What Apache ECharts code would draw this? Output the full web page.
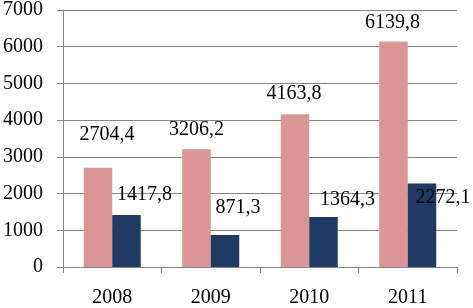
<!DOCTYPE html>
<html><head><meta charset="utf-8">
<script src="https://cdn.jsdelivr.net/npm/echarts@6/dist/echarts.min.js"></script>
<style>html,body{margin:0;padding:0;background:#fff}#c{width:473px;height:308px}</style>
</head><body><div id="c"></div>
<script>
var categories = ['2008', '2009', '2010', '2011'];
var series1 = [2704.4, 3206.2, 4163.8, 6139.8];
var series2 = [1417.8, 871.3, 1364.3, 2272.1];
var yTicks = [0, 1000, 2000, 3000, 4000, 5000, 6000, 7000];

// label placement (manually placed labels in the original)
var off1 = [[9, -18], [0, -5], [-1, -5], [-1, -4]];
var off2 = [[18, -5], [13, -12], [24, -2], [21, 29]];

var font = '"Liberation Serif","Times New Roman",serif';
function fmt(v){ return v.toFixed(1).replace('.', ','); }
function build(vals, offs){
  return vals.map(function(v, i){
    return {value: v, label: {offset: offs[i]}};
  });
}
var chart = echarts.init(document.getElementById('c'), null, {renderer: 'canvas'});
chart.setOption({
  animation: false,
  grid: {left: 59, right: 16, top: 7, bottom: 38.5, containLabel: false},
  xAxis: {
    type: 'category', data: categories,
    axisLine: {lineStyle: {color: '#868686', width: 1}},
    axisTick: {show: true, length: 6, lineStyle: {color: '#868686'}},
    axisLabel: {color: '#000', fontFamily: font, fontSize: 20, margin: 21}
  },
  yAxis: {
    type: 'value', min: yTicks[0], max: yTicks[yTicks.length - 1], interval: 1000,
    axisLine: {show: true, lineStyle: {color: '#868686', width: 1}},
    axisTick: {show: true, length: 6, lineStyle: {color: '#868686'}},
    splitLine: {show: true, lineStyle: {color: '#868686', width: 1}},
    axisLabel: {color: '#000', fontFamily: font, fontSize: 20, margin: 20,
                formatter: function(v){ return String(v); }}
  },
  series: [
    {type: 'bar', data: build(series1, off1), barWidth: 28.5, barGap: '0%',
     itemStyle: {color: '#D99694'},
     label: {show: true, position: 'top', distance: 5, color: '#000', fontFamily: font, fontSize: 20,
             formatter: function(p){ return fmt(p.value); }}},
    {type: 'bar', data: build(series2, off2), barWidth: 28.5, barGap: '0%',
     itemStyle: {color: '#1F3A63'},
     label: {show: true, position: 'top', distance: 5, color: '#000', fontFamily: font, fontSize: 20,
             formatter: function(p){ return fmt(p.value); }}}
  ]
});
</script></body></html>
